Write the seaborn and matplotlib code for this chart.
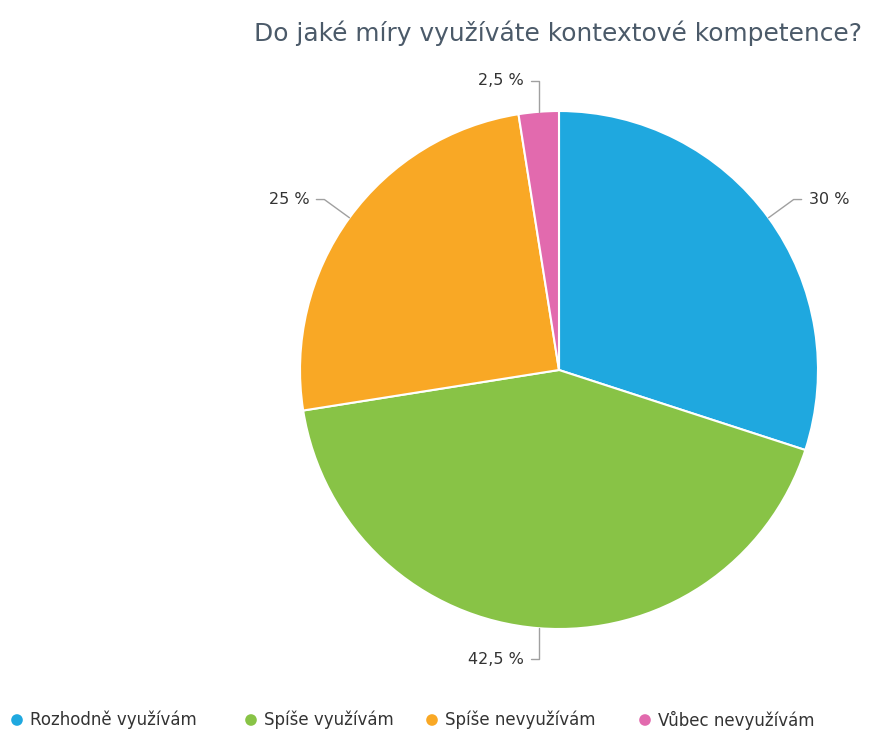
import numpy as np
import matplotlib
matplotlib.use("Agg")
import matplotlib.pyplot as plt
from matplotlib import font_manager
import seaborn as sns

# Survey answers and their shares (in percent)
categories = ["Rozhodně využívám", "Spíše využívám", "Spíše nevyužívám", "Vůbec nevyužívám"]
shares = [30, 42.5, 25, 2.5]
value_labels = ["30 %", "42,5 %", "25 %", "2,5 %"]
colors = ["#1fa8df", "#88c346", "#f9a825", "#e26aae"]
title = "Do jaké míry využíváte kontextové kompetence?"

sns.set_theme(style="white")
installed = {f.name for f in font_manager.fontManager.ttflist}
narrow = "Liberation Sans Narrow" if "Liberation Sans Narrow" in installed else "DejaVu Sans"
plt.rcParams["font.family"] = ["DejaVu Sans"]

W, H = 869, 733
fig = plt.figure(figsize=(W / 100, H / 100), dpi=100)
ax = fig.add_axes([0, 0, 1, 1])
ax.set_xlim(0, W)
ax.set_ylim(0, H)
ax.set_aspect("equal")
ax.axis("off")

cx, cy, r = 559, H - 370, 259
wedges, _ = ax.pie(
    shares, colors=colors, startangle=90, counterclock=False,
    radius=r, center=(cx, cy), frame=True,
    wedgeprops=dict(edgecolor="white", linewidth=1.5),
)
ax.set_xlim(0, W)
ax.set_ylim(0, H)
ax.axis("off")

# Value labels with leader lines
for w, lab in zip(wedges, value_labels):
    ang = np.deg2rad((w.theta1 + w.theta2) / 2)
    c, s = np.cos(ang), np.sin(ang)
    x0, y0 = cx + r * c, cy + r * s
    x1, y1 = cx + 290 * c, cy + 290 * s
    if abs(c) < 0.2:
        # near-vertical leaders rise straight from the rim
        x1 = x0
    side = 1 if c > 0.2 else -1
    x2 = x1 + 8 * side
    ax.plot([x0, x1, x2], [y0, y1, y1], color="#a0a0a0", lw=1.0, solid_capstyle="round")
    ax.text(x2 + 7 * side, y1, lab, ha="left" if side > 0 else "right", va="center",
            fontsize=11.5, color="#333333")

# Title
ax.text(862, H - 33, title, ha="right", va="center", fontsize=17.9, color="#4b5a69")

# Legend row
legend_x = [17, 251, 432, 645]
for x, lab, col in zip(legend_x, categories, colors):
    ax.scatter([x], [H - 720], s=70, color=col, edgecolors="none")
    ax.text(x + 13, H - 720, lab, ha="left", va="center", fontsize=12,
            color="#333333", family=[narrow, "DejaVu Sans"])

fig.savefig("out.png", dpi=100, facecolor="white")
